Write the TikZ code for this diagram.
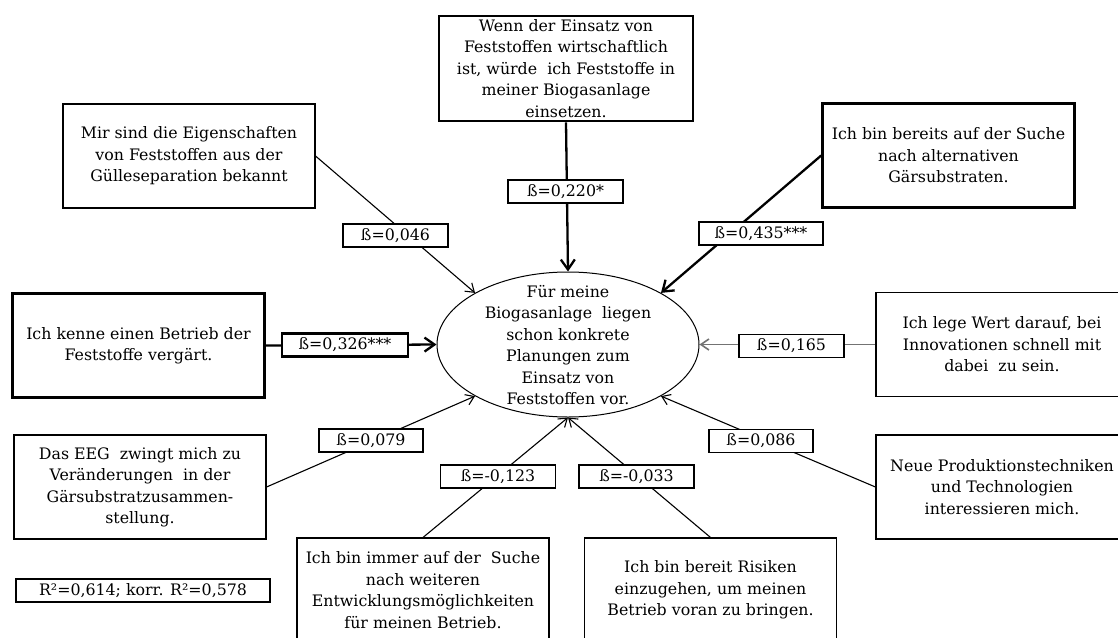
\documentclass[tikz,border=0pt]{standalone}
\usepackage{fontspec}
\setmainfont{DejaVu Serif}
\usetikzlibrary{arrows.meta}
\usetikzlibrary{shapes.geometric}
\newcommand{\myfont}{\fontsize{15.8}{21.5}\selectfont}

\tikzset{
 mybox/.style={draw, line width=1.1pt, minimum width=252pt, minimum height=104pt, inner sep=0pt, align=center, font=\myfont},
 mythickbox/.style={mybox, line width=2.6pt},
 mylabel/.style={draw, fill=white, line width=1.1pt, minimum height=23pt, inner sep=1pt, font=\myfont},
 mythicklabel/.style={mylabel, line width=2.6pt},
 myline/.style={line width=1.1pt, -{Straight Barb[length=8pt, width=11pt]}},
 mythickline/.style={line width=2.3pt, -{Straight Barb[length=10pt, width=14pt]}}
}

\begin{document}
\begin{tikzpicture}[x=1pt, y=-1pt]
\useasboundingbox (0,0) rectangle (1118,637);

 %ellipse
 \node[ellipse, draw, line width=1pt, minimum width=262pt, minimum height=145pt, inner sep=0pt] (ziel) at (568,344.5) {};
 \node[font=\myfont, align=center] (zieltext) at (568,345) {Für meine\\Biogasanlage~ liegen\\schon konkrete\\Planungen zum\\Einsatz von\\Feststoffen vor.};

 %boxes
 \node[mythickbox, minimum width=254pt, minimum height=105pt] (wenn) at (566,68.5) {Wenn der Einsatz von\\Feststoffen wirtschaftlich\\ist, würde~ ich Feststoffe in\\meiner Biogasanlage\\einsetzen.};
 \node[mybox] (mir) at (189,156) {Mir sind die Eigenschaften\\von Feststoffen aus der\\Gülleseparation bekannt};
 \node[mythickbox] (bereits) at (948.5,155.5) {Ich bin bereits auf der Suche\\nach alternativen\\Gärsubstraten.};
 \node[mythickbox] (kenne) at (138.5,345.5) {Ich kenne einen Betrieb der\\Feststoffe vergärt.};
 \node[mybox] (lege) at (1002,344.5) {Ich lege Wert darauf, bei\\Innovationen schnell mit\\dabei~ zu sein.};
 \node[mybox] (eeg) at (140,487) {Das EEG~ zwingt mich zu\\Veränderungen~ in der\\Gärsubstratzusammen-\\stellung.};
 \node[mybox] (neue) at (1002,487) {Neue Produktionstechniken\\und Technologien\\interessieren mich.};
 \node[mybox] (immer) at (423,590) {Ich bin immer auf der~ Suche\\nach weiteren\\Entwicklungsmöglichkeiten\\für meinen Betrieb.};
 \node[mybox] (risiken) at (710.5,590) {Ich bin bereit Risiken\\einzugehen, um meinen\\Betrieb voran zu bringen.};

 %arrows
 \draw[mythickline] (wenn.south) -- (ziel.north);
 \draw[mythickline] (bereits.west) -- (ziel.north east);
 \draw[mythickline] (kenne.east) -- (ziel.west);
 \draw[myline] (mir.east) -- (ziel.north west);
 \draw[myline, black!55, line width=1.6pt] (lege.west) -- (ziel.east);
 \draw[myline] (eeg.east) -- (ziel.south west);
 \draw[myline] (neue.west) -- (ziel.south east);
 \draw[myline] (immer.north) -- (ziel.south);
 \draw[myline] (risiken.north) -- (ziel.south);

 %labels
 \node[mythicklabel, minimum width=115pt] (b220) at (565.5,191.5) {ß=0,220*};
 \node[mythicklabel, minimum width=124pt] (b435) at (761,233.5) {ß=0,435***};
 \node[mythicklabel, minimum width=126pt] (b326) at (345,345) {ß=0,326***};
 \node[mylabel, minimum width=105pt] (b046) at (395.5,235.5) {ß=0,046};
 \node[mylabel, minimum width=105pt] (b165) at (791.5,346) {ß=0,165};
 \node[mylabel, minimum width=104pt] (b079) at (371,440.5) {ß=0,079};
 \node[mylabel, minimum width=104pt] (b086) at (761,441) {ß=0,086};
 \node[mylabel, minimum width=115pt] (b123) at (498,476.5) {ß=-0,123};
 \node[mylabel, minimum width=115pt] (b033) at (636.5,476.5) {ß=-0,033};
 \node[mylabel, minimum width=254pt] (rsq) at (143,590.5) {R²=0,614; korr. R²=0,578};
\end{tikzpicture}
\end{document}
